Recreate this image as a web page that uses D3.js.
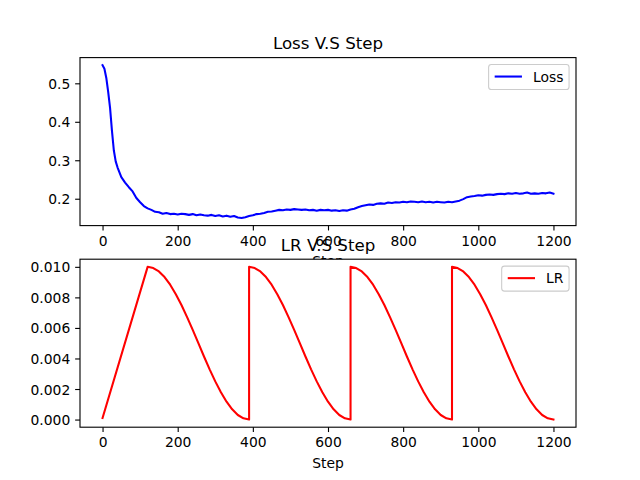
<!DOCTYPE html>
<html><head><meta charset="utf-8">
<script src="https://cdn.jsdelivr.net/npm/d3@7"></script>
<style>body{margin:0;background:#fff} svg{display:block} text{font-family:"DejaVu Sans",sans-serif;fill:#000}</style>
</head><body><svg id="c" width="640" height="480"></svg>
<script>
// ---- data ----
const lossSteps = [0,5,10,15,20,25,30,35,40,50,60,70,80,90,100,110,120,130,140,150,160,170,180,190,200,210,220,230,240,250,260,270,280,290,300,310,320,330,340,350,360,370,380,390,400,410,420,430,440,450,460,470,480,490,500,510,520,530,540,550,560,570,580,590,600,610,620,630,640,650,660,670,680,690,700,710,720,730,740,750,760,770,780,790,800,810,820,830,840,850,860,870,880,890,900,910,920,930,940,950,960,970,980,990,1000,1010,1020,1030,1040,1050,1060,1070,1080,1090,1100,1110,1120,1130,1140,1150,1160,1170,1180,1190,1200];
const lossValues = [0.547,0.538,0.514,0.478,0.436,0.377,0.326,0.297,0.281,0.256,0.242,0.230,0.219,0.202,0.191,0.181,0.175,0.171,0.166,0.165,0.161,0.163,0.160,0.161,0.159,0.161,0.160,0.158,0.160,0.157,0.159,0.157,0.156,0.158,0.155,0.157,0.154,0.156,0.153,0.155,0.151,0.150,0.152,0.155,0.157,0.160,0.161,0.163,0.166,0.167,0.169,0.171,0.170,0.172,0.171,0.173,0.172,0.171,0.172,0.170,0.171,0.169,0.171,0.170,0.171,0.169,0.170,0.168,0.170,0.169,0.172,0.174,0.178,0.181,0.183,0.185,0.184,0.187,0.188,0.187,0.190,0.189,0.191,0.190,0.192,0.191,0.193,0.192,0.191,0.193,0.191,0.192,0.190,0.192,0.191,0.190,0.192,0.191,0.193,0.195,0.199,0.204,0.206,0.207,0.209,0.208,0.210,0.211,0.210,0.212,0.213,0.212,0.214,0.213,0.215,0.213,0.214,0.216,0.213,0.214,0.213,0.215,0.214,0.216,0.213];

const lrSteps = [0,
  120,135,150,165,180,195,210,225,240,255,270,285,300,315,330,345,360,375,390,
  390,405,420,435,450,465,480,495,510,525,540,555,570,585,600,615,630,645,660,
  660,675,690,705,720,735,750,765,780,795,810,825,840,855,870,885,900,915,930,
  930,945,960,975,990,1005,1020,1035,1050,1065,1080,1095,1110,1125,1140,1155,1170,1185,1200];
const lrValues = [0.0001,
  0.01000,0.00992,0.00970,0.00933,0.00883,0.00821,0.00750,0.00671,0.00587,0.00500,0.00413,0.00329,0.00250,0.00179,0.00117,0.00067,0.00030,0.00008,0.00000,
  0.01000,0.00992,0.00970,0.00933,0.00883,0.00821,0.00750,0.00671,0.00587,0.00500,0.00413,0.00329,0.00250,0.00179,0.00117,0.00067,0.00030,0.00008,0.00000,
  0.01000,0.00992,0.00970,0.00933,0.00883,0.00821,0.00750,0.00671,0.00587,0.00500,0.00413,0.00329,0.00250,0.00179,0.00117,0.00067,0.00030,0.00008,0.00000,
  0.01000,0.00992,0.00970,0.00933,0.00883,0.00821,0.00750,0.00671,0.00587,0.00500,0.00413,0.00329,0.00250,0.00179,0.00117,0.00067,0.00030,0.00008,0.00000];

const xTicks = [0,200,400,600,800,1000,1200];
const lossTicks = [0.2,0.3,0.4,0.5];
const lrTicks = [0.000,0.002,0.004,0.006,0.008,0.010];
const titles = ["Loss V.S Step","LR V.S Step"];
const legendLabels = ["Loss","LR"];
const xLabel = "Step";

// ---- layout ----
const svg = d3.select("#c");
const L = 80, R = 576, T1 = 57.6, H = 168, T2 = 259.2;
const FS = 13.89, TFS = 16.67, TICK = 4.86, PAD = 4.86;
const LW = 2.08, SW = 1.11;

function padDomain(lo, hi) { const s = hi - lo; return [lo - 0.05*s, hi + 0.05*s]; }

function drawPanel(top, steps, vals, yTicks, fmt, color, title, legendLabel) {
  const g = svg.append("g");
  g.append("rect").attr("x", L).attr("y", top).attr("width", R-L).attr("height", H).attr("fill", "#fff");
  const x = d3.scaleLinear().domain(padDomain(d3.min(steps), d3.max(steps))).range([L, R]);
  const y = d3.scaleLinear().domain(padDomain(d3.min(vals), d3.max(vals))).range([top+H, top]);

  const clipId = "clip" + Math.round(top);
  svg.append("clipPath").attr("id", clipId).append("rect").attr("x", L).attr("y", top).attr("width", R-L).attr("height", H);

  const data = steps.map((s,i)=>[s, vals[i]]);
  g.append("path").datum(data)
    .attr("clip-path", `url(#${clipId})`)
    .attr("fill","none").attr("stroke", color).attr("stroke-width", LW)
    .attr("stroke-linejoin","round").attr("stroke-linecap","square")
    .attr("d", d3.line().x(d=>x(d[0])).y(d=>y(d[1])));

  // axes
  const xa = g.append("g").attr("transform", `translate(0,${top+H})`)
    .call(d3.axisBottom(x).tickValues(xTicks).tickFormat(d3.format("d")).tickSizeOuter(0).tickSizeInner(TICK).tickPadding(PAD));
  const ya = g.append("g").attr("transform", `translate(${L},0)`)
    .call(d3.axisLeft(y).tickValues(yTicks).tickFormat(fmt).tickSizeOuter(0).tickSizeInner(TICK).tickPadding(PAD));
  [xa, ya].forEach(a => {
    a.select(".domain").remove();
    a.selectAll("line").attr("stroke","#000").attr("stroke-width",SW);
    a.selectAll("text").attr("font-size", FS).attr("font-family","DejaVu Sans").attr("fill","#000");
  });
  xa.selectAll("text").attr("dy","0.76em");
  ya.selectAll("text").attr("dy","0.36em");

  // spines
  g.append("rect").attr("x", L).attr("y", top).attr("width", R-L).attr("height", H)
    .attr("fill","none").attr("stroke","#000").attr("stroke-width",SW);

  // x label
  g.append("text").attr("x", (L+R)/2).attr("y", top+H+TICK+PAD+FS*1.17+4.2)
    .attr("text-anchor","middle").attr("dominant-baseline","hanging").attr("font-size", FS).text(xLabel);

  // title
  g.append("text").attr("x", (L+R)/2).attr("y", top-8.5).attr("text-anchor","middle")
    .attr("font-size", TFS).text(title);

  // legend
  const lg = g.append("g");
  const txt = lg.append("text").attr("font-size", FS).text(legendLabel);
  const tw = txt.node().getComputedTextLength();
  const bp = 0.4*FS, hl = 2*FS, htp = 0.8*FS;
  const bw = bp + hl + htp + tw + bp;
  const bh = 25;
  const bx = R - 0.5*FS - bw, by = top + 0.5*FS;
  lg.insert("rect", "text").attr("x", bx).attr("y", by).attr("width", bw).attr("height", bh)
    .attr("rx", 2.8).attr("ry", 2.8).attr("fill","#fff").attr("fill-opacity",0.8)
    .attr("stroke","#cccccc").attr("stroke-width",1.1);
  const ly = by + bh/2 - 0.5;
  lg.append("line").attr("x1", bx+bp+0.5).attr("x2", bx+bp+hl).attr("y1", ly).attr("y2", ly)
    .attr("stroke", color).attr("stroke-width", LW);
  txt.attr("x", bx+bp+hl+htp).attr("y", ly).attr("dy","0.36em");
  return g;
}

drawPanel(T1, lossSteps, lossValues, lossTicks, d3.format(".1f"), "#0000ff", titles[0], legendLabels[0]);
drawPanel(T2, lrSteps, lrValues, lrTicks, d3.format(".3f"), "#ff0000", titles[1], legendLabels[1]);
</script></body></html>
